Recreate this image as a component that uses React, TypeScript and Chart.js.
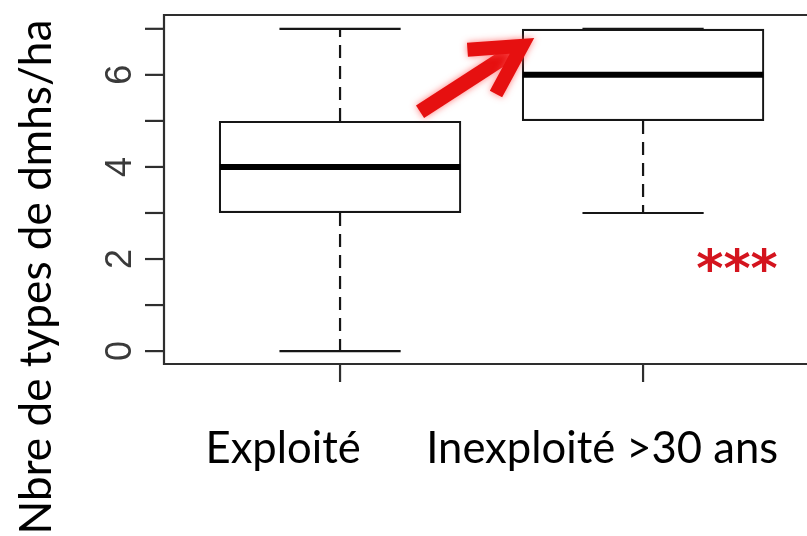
import React, { useEffect, useRef } from "react";
import { Chart, registerables } from "chart.js";

Chart.register(...registerables);

// ---- data ----
const categories = ["Exploité", "Inexploité >30 ans"];
const positions = [1, 2];
const whiskerLow = [0, 3];
const q1 = [3, 5];
const median = [4, 6];
const q3 = [5, 7];
const whiskerHigh = [7, 7];
const yTickValues = [0, 1, 2, 3, 4, 5, 6, 7];
const yLabelValues = [0, 2, 4, 6];
const yTitle = "Nbre de types de dmhs/ha";
const significance = "***";
const significanceAt = { x: 2.31, y: 2 };
const arrowTail = { x: 1.264, y: 5.2 };
const arrowTip = { x: 1.617, y: 6.7 };

// ---- layout (not data) ----
const W = 807;
const H = 536;
const labelCenters = [0.812, 1.865];
const LINE = "#161616";
const AXIS = "#2e2e2e";

function fitFont(ctx: CanvasRenderingContext2D, text: string, family: string, target: number) {
  ctx.font = `40px ${family}`;
  const w = ctx.measureText(text).width;
  return (40 * target) / w;
}

const drawPlugin = {
  id: "boxExtras",
  beforeDatasetsDraw(chart: any) {
    const ctx: CanvasRenderingContext2D = chart.ctx;
    const xs = chart.scales.x;
    const ys = chart.scales.y;
    const { left, top, bottom } = chart.chartArea;
    ctx.save();
    ctx.strokeStyle = AXIS;
    ctx.lineWidth = 2.2;
    ctx.beginPath();
    ctx.moveTo(W, top);
    ctx.lineTo(left, top);
    ctx.lineTo(left, bottom);
    ctx.lineTo(W, bottom);
    ctx.stroke();
    yTickValues.forEach((v) => {
      const py = ys.getPixelForValue(v);
      ctx.beginPath();
      ctx.moveTo(left - 19, py);
      ctx.lineTo(left, py);
      ctx.stroke();
    });
    positions.forEach((p) => {
      const px = xs.getPixelForValue(p);
      ctx.beginPath();
      ctx.moveTo(px, bottom);
      ctx.lineTo(px, bottom + 18);
      ctx.stroke();
    });
    ctx.fillStyle = "#3a3a3a";
    ctx.font = "36px 'Liberation Sans', Arial, sans-serif";
    ctx.textAlign = "center";
    ctx.textBaseline = "alphabetic";
    yLabelValues.forEach((v) => {
      const py = ys.getPixelForValue(v);
      ctx.save();
      ctx.translate(left - 33, py);
      ctx.rotate(-Math.PI / 2);
      ctx.fillText(String(v), 0, 0);
      ctx.restore();
    });
    ctx.restore();
  },
  afterDatasetsDraw(chart: any) {
    const ctx: CanvasRenderingContext2D = chart.ctx;
    const xs = chart.scales.x;
    const ys = chart.scales.y;
    ctx.save();
    ctx.strokeStyle = LINE;
    positions.forEach((p, i) => {
      const px = xs.getPixelForValue(p);
      const halfBox = xs.getPixelForValue(p + 0.4) - px;
      const halfCap = halfBox / 2;
      ctx.lineWidth = 2.2;
      ctx.setLineDash([13, 8]);
      if (whiskerHigh[i] > q3[i]) {
        ctx.beginPath();
        ctx.moveTo(px, ys.getPixelForValue(q3[i]));
        ctx.lineTo(px, ys.getPixelForValue(whiskerHigh[i]));
        ctx.stroke();
      }
      if (whiskerLow[i] < q1[i]) {
        ctx.beginPath();
        ctx.moveTo(px, ys.getPixelForValue(q1[i]));
        ctx.lineTo(px, ys.getPixelForValue(whiskerLow[i]));
        ctx.stroke();
      }
      ctx.setLineDash([]);
      [whiskerLow[i], whiskerHigh[i]].forEach((v) => {
        const py = ys.getPixelForValue(v);
        ctx.beginPath();
        ctx.moveTo(px - halfCap, py);
        ctx.lineTo(px + halfCap, py);
        ctx.stroke();
      });
      ctx.lineWidth = 6;
      ctx.strokeStyle = "#000";
      const pm = ys.getPixelForValue(median[i]);
      ctx.beginPath();
      ctx.moveTo(px - halfBox + 1, pm);
      ctx.lineTo(px + halfBox - 1, pm);
      ctx.stroke();
      ctx.strokeStyle = LINE;
    });

    // red arrow annotation
    const tx = xs.getPixelForValue(arrowTail.x);
    const ty = ys.getPixelForValue(arrowTail.y);
    const hx = xs.getPixelForValue(arrowTip.x);
    const hy = ys.getPixelForValue(arrowTip.y);
    const ang = Math.atan2(ty - hy, tx - hx);
    const wing = 60;
    const spread = (26 * Math.PI) / 180;
    ctx.save();
    ctx.strokeStyle = "rgb(230,16,16)";
    ctx.shadowColor = "rgba(255,80,80,0.75)";
    ctx.shadowBlur = 7;
    ctx.lineWidth = 15;
    ctx.lineCap = "butt";
    ctx.beginPath();
    ctx.moveTo(tx, ty);
    ctx.lineTo(hx + 10 * Math.cos(ang), hy + 10 * Math.sin(ang));
    ctx.stroke();
    ctx.lineWidth = 14;
    ctx.lineJoin = "miter";
    ctx.miterLimit = 10;
    ctx.beginPath();
    ctx.moveTo(hx + wing * Math.cos(ang + spread), hy + wing * Math.sin(ang + spread));
    ctx.lineTo(hx + 6 * Math.cos(ang), hy + 6 * Math.sin(ang));
    ctx.lineTo(hx + wing * Math.cos(ang - spread), hy + wing * Math.sin(ang - spread));
    ctx.stroke();
    ctx.restore();

    // significance stars
    ctx.save();
    ctx.fillStyle = "#d4141e";
    ctx.font = "bold 52px 'DejaVu Sans', sans-serif";
    ctx.textAlign = "center";
    ctx.textBaseline = "alphabetic";
    const m = ctx.measureText(significance);
    const sy = ys.getPixelForValue(significanceAt.y);
    const base = sy - (m.actualBoundingBoxDescent - m.actualBoundingBoxAscent) / 2;
    ctx.fillText(significance, xs.getPixelForValue(significanceAt.x), base);
    ctx.restore();

    // category labels
    ctx.save();
    const fam = "Lato, 'Open Sans', sans-serif";
    const fs = fitFont(ctx, categories[1], fam, 352);
    ctx.font = `${fs}px ${fam}`;
    ctx.fillStyle = "#000";
    ctx.textAlign = "center";
    ctx.textBaseline = "alphabetic";
    categories.forEach((c, i) => {
      ctx.fillText(c, xs.getPixelForValue(labelCenters[i]), 463);
    });
    const ts = fitFont(ctx, yTitle, fam, 515);
    ctx.font = `${ts}px ${fam}`;
    ctx.translate(51, 277);
    ctx.rotate(-Math.PI / 2);
    ctx.fillText(yTitle, 0, 0);
    ctx.restore();
    ctx.restore();
  },
};

export default function App() {
  const ref = useRef<HTMLCanvasElement | null>(null);
  useEffect(() => {
    if (!ref.current) return;
    const chart = new Chart(ref.current, {
      type: "bar",
      data: {
        datasets: [
          {
            label: "box",
            data: positions.map((p, i) => ({ x: p, y: [q1[i], q3[i]] })) as any,
            backgroundColor: "#ffffff",
            borderColor: LINE,
            borderWidth: 2.2,
            borderSkipped: false,
            categoryPercentage: 0.8,
            barPercentage: 1,
          } as any,
        ],
      },
      options: {
        animation: false,
        responsive: false,
        maintainAspectRatio: false,
        devicePixelRatio: 1,
        layout: { padding: { left: 164, top: 15, right: 0, bottom: 172 } },
        plugins: { legend: { display: false }, tooltip: { enabled: false } },
        scales: {
          x: {
            type: "linear",
            min: 0.419,
            max: 2.541,
            offset: false,
            display: false,
            grid: { offset: false },
            ticks: { includeBounds: false, stepSize: 1 },
            afterBuildTicks: (s: any) => {
              s.ticks = positions.map((v) => ({ value: v }));
            },
          },
          y: { type: "linear", min: -0.28, max: 7.3, display: false },
        },
      } as any,
      plugins: [drawPlugin],
    });
    return () => chart.destroy();
  }, []);
  return (
    <div style={{ position: "absolute", left: 0, top: 0, width: W, height: H, background: "#fff" }}>
      <canvas ref={ref} width={W} height={H} style={{ display: "block", width: W, height: H }} />
    </div>
  );
}
